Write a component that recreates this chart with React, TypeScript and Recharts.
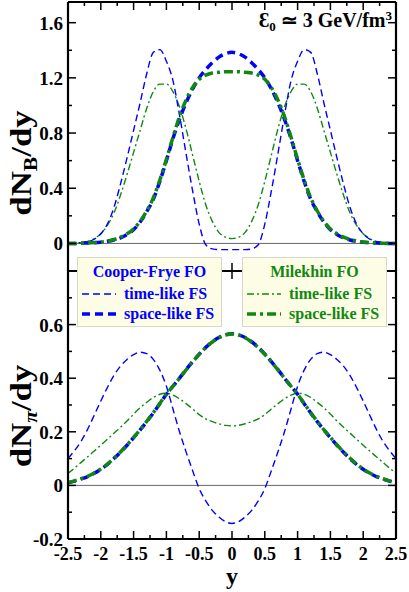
import React from 'react';
import { LineChart, Line, XAxis, YAxis, ReferenceLine } from 'recharts';

// rapidity grid
const rapidity = [
  -2.5, -2.4, -2.3, -2.2, -2.1, -2.0, -1.9, -1.8, -1.7, -1.6, -1.5, -1.4, -1.3, -1.2, -1.1, -1.0,
  -0.9, -0.8, -0.7, -0.6, -0.5, -0.4, -0.3, -0.2, -0.1, 0, 0.1, 0.2, 0.3, 0.4, 0.5, 0.6, 0.7, 0.8,
  0.9, 1.0, 1.1, 1.2, 1.3, 1.4, 1.5, 1.6, 1.7, 1.8, 1.9, 2.0, 2.1, 2.2, 2.3, 2.4, 2.5,
];

// baryon rapidity distributions
const cfTimeB = [
  0, 0.001, 0.004, 0.012, 0.03, 0.07, 0.14, 0.26, 0.43, 0.62, 0.82, 1.02, 1.23, 1.385, 1.405, 1.32,
  1.18, 0.93, 0.65, 0.38, 0.14, -0.01, -0.04, -0.045, -0.045, -0.045, -0.045, -0.045, -0.04, -0.01,
  0.14, 0.38, 0.65, 0.93, 1.18, 1.32, 1.405, 1.385, 1.23, 1.02, 0.82, 0.62, 0.43, 0.26, 0.14, 0.07,
  0.03, 0.012, 0.004, 0.001, 0,
];
const mkTimeB = [
  0, 0.002, 0.006, 0.015, 0.035, 0.07, 0.13, 0.22, 0.35, 0.5, 0.66, 0.82, 0.98, 1.1, 1.155, 1.155,
  1.1, 0.99, 0.83, 0.64, 0.45, 0.28, 0.16, 0.08, 0.045, 0.035, 0.045, 0.08, 0.16, 0.28, 0.45, 0.64,
  0.83, 0.99, 1.1, 1.155, 1.155, 1.1, 0.98, 0.82, 0.66, 0.5, 0.35, 0.22, 0.13, 0.07, 0.035, 0.015,
  0.006, 0.002, 0,
];
const cfSpaceB = [
  0, 0, 0.001, 0.003, 0.005, 0.009, 0.015, 0.025, 0.04, 0.065, 0.1, 0.155, 0.23, 0.32, 0.45, 0.6,
  0.76, 0.9, 1.02, 1.12, 1.2, 1.26, 1.31, 1.35, 1.375, 1.385, 1.375, 1.35, 1.31, 1.26, 1.2, 1.12,
  1.02, 0.9, 0.76, 0.6, 0.45, 0.32, 0.23, 0.155, 0.1, 0.065, 0.04, 0.025, 0.015, 0.009, 0.005, 0.003,
  0.001, 0, 0,
];
const mkSpaceB = [
  0, 0, 0.001, 0.003, 0.006, 0.01, 0.017, 0.028, 0.045, 0.07, 0.105, 0.16, 0.235, 0.33, 0.46, 0.61,
  0.77, 0.92, 1.04, 1.13, 1.19, 1.22, 1.235, 1.24, 1.245, 1.245, 1.245, 1.24, 1.235, 1.22, 1.19, 1.13,
  1.04, 0.92, 0.77, 0.61, 0.46, 0.33, 0.235, 0.16, 0.105, 0.07, 0.045, 0.028, 0.017, 0.01, 0.006,
  0.003, 0.001, 0, 0,
];

// pion rapidity distributions
const cfTimePi = [
  0.1, 0.13, 0.165, 0.21, 0.262, 0.315, 0.365, 0.41, 0.445, 0.47, 0.488, 0.497, 0.492, 0.47, 0.43,
  0.37, 0.285, 0.2, 0.125, 0.055, -0.012, -0.058, -0.093, -0.118, -0.135, -0.142, -0.135, -0.118,
  -0.093, -0.058, -0.012, 0.055, 0.125, 0.2, 0.285, 0.37, 0.43, 0.47, 0.492, 0.497, 0.488, 0.47,
  0.445, 0.41, 0.365, 0.315, 0.262, 0.21, 0.165, 0.13, 0.1,
];
const mkTimePi = [
  0.045, 0.065, 0.086, 0.107, 0.128, 0.15, 0.172, 0.195, 0.217, 0.24, 0.266, 0.29, 0.31, 0.328, 0.34,
  0.344, 0.337, 0.323, 0.305, 0.285, 0.264, 0.248, 0.238, 0.23, 0.224, 0.222, 0.224, 0.23, 0.238,
  0.248, 0.264, 0.285, 0.305, 0.323, 0.337, 0.344, 0.34, 0.328, 0.31, 0.29, 0.266, 0.24, 0.217, 0.195,
  0.172, 0.15, 0.128, 0.107, 0.086, 0.065, 0.045,
];
const cfSpacePi = [
  0.01, 0.016, 0.024, 0.033, 0.045, 0.06, 0.078, 0.1, 0.124, 0.15, 0.178, 0.207, 0.238, 0.27, 0.305,
  0.34, 0.37, 0.4, 0.432, 0.462, 0.49, 0.515, 0.536, 0.552, 0.562, 0.566, 0.562, 0.552, 0.536, 0.515,
  0.49, 0.462, 0.432, 0.4, 0.37, 0.34, 0.305, 0.27, 0.238, 0.207, 0.178, 0.15, 0.124, 0.1, 0.078, 0.06,
  0.045, 0.033, 0.024, 0.016, 0.01,
];
const mkSpacePi = [
  0.011, 0.017, 0.025, 0.034, 0.046, 0.061, 0.079, 0.101, 0.125, 0.151, 0.179, 0.208, 0.239, 0.271,
  0.306, 0.34, 0.37, 0.4, 0.431, 0.461, 0.489, 0.514, 0.535, 0.551, 0.561, 0.565, 0.561, 0.551, 0.535,
  0.514, 0.489, 0.461, 0.431, 0.4, 0.37, 0.34, 0.306, 0.271, 0.239, 0.208, 0.179, 0.151, 0.125, 0.101,
  0.079, 0.061, 0.046, 0.034, 0.025, 0.017, 0.011,
];

const xTicks = [
  -2.5, -2.25, -2, -1.75, -1.5, -1.25, -1, -0.75, -0.5, -0.25, 0, 0.25, 0.5, 0.75, 1, 1.25, 1.5, 1.75,
  2, 2.25, 2.5,
];
const xLabels = ['-2.5', '-2', '-1.5', '-1', '-0.5', '0', '0.5', '1', '1.5', '2', '2.5'];
const topYTicks = [-0.2, 0, 0.2, 0.4, 0.6, 0.8, 1.0, 1.2, 1.4, 1.6];
const topYLabels = ['0', '0.4', '0.8', '1.2', '1.6'];
const botYTicks = [-0.2, -0.1, 0, 0.1, 0.2, 0.3, 0.4, 0.5, 0.6, 0.7, 0.8];
const botYLabels = ['-0.2', '0', '0.2', '0.4', '0.6'];
const xDomain = [-2.5, 2.5];
const topDomain = [-0.2, 1.75];
const botDomain = [-0.2, 0.8];

const topData = rapidity.map((y, i) => ({
  y,
  cfTime: cfTimeB[i],
  mkTime: mkTimeB[i],
  cfSpace: cfSpaceB[i],
  mkSpace: mkSpaceB[i],
}));
const botData = rapidity.map((y, i) => ({
  y,
  cfTime: cfTimePi[i],
  mkTime: mkTimePi[i],
  cfSpace: cfSpacePi[i],
  mkSpace: mkSpacePi[i],
}));

const FONT = '"Liberation Serif", "Times New Roman", serif';
const BLUE = '#0000ff';
const GREEN = '#108810';

const fmtY = (v: number) => (Math.abs(v) < 1e-9 ? '0' : v.toFixed(1));

const makeXTick = (dir: 'up' | 'down', withLabels: boolean) => (props: any) => {
  const { x, y, payload } = props;
  const v = payload.value;
  const label = String(v);
  const major = xLabels.includes(label);
  const len = major ? 8 : 4;
  const y2 = dir === 'up' ? y - len : y + len;
  return (
    <g>
      <line x1={x} x2={x} y1={y} y2={y2} stroke="#000" strokeWidth={1.5} />
      {withLabels && major && (
        <text x={x} y={y + 21} textAnchor="middle" fontFamily={FONT} fontWeight="bold" fontSize={18} fill="#000">
          {label}
        </text>
      )}
    </g>
  );
};

const makeYTick = (side: 'left' | 'right', labels: string[], majorStep: number) => (props: any) => {
  const { x, y, payload } = props;
  const v = payload.value;
  const label = fmtY(v);
  const q = v / majorStep;
  const major = Math.abs(q - Math.round(q)) < 1e-6;
  const len = major ? 8 : 4;
  const x2 = side === 'left' ? x + len : x - len;
  return (
    <g>
      <line x1={x} x2={x2} y1={y} y2={y} stroke="#000" strokeWidth={1.5} />
      {side === 'left' && labels.includes(label) && (
        <text x={x - 5} y={y + 7} textAnchor="end" fontFamily={FONT} fontWeight="bold" fontSize={19} fill="#000">
          {label}
        </text>
      )}
    </g>
  );
};

const frame = (yDomain: number[]) => [
  <ReferenceLine key="fl" x={xDomain[0]} stroke="#000" strokeWidth={2.2} />,
  <ReferenceLine key="fr" x={xDomain[1]} stroke="#000" strokeWidth={2.2} />,
  <ReferenceLine key="fb" y={yDomain[0]} stroke="#000" strokeWidth={2.2} />,
  <ReferenceLine key="ft" y={yDomain[1]} stroke="#000" strokeWidth={2.2} />,
];

const renderLines = () => [
  <Line key="mkT" dataKey="mkTime" stroke={GREEN} strokeWidth={1.4} strokeDasharray="7 3 2 3" dot={false} type="monotone" isAnimationActive={false} />,
  <Line key="cfT" dataKey="cfTime" stroke={BLUE} strokeWidth={1.4} strokeDasharray="7 4" dot={false} type="monotone" isAnimationActive={false} />,
  <Line key="cfS" dataKey="cfSpace" stroke={BLUE} strokeWidth={3.5} strokeDasharray="8 5" dot={false} type="monotone" isAnimationActive={false} />,
  <Line key="mkS" dataKey="mkSpace" stroke={GREEN} strokeWidth={3.5} strokeDasharray="9 4 3 4" dot={false} type="monotone" isAnimationActive={false} />,
];

const LegendSample = ({ color, width, dash }: { color: string; width: number; dash: string }) => (
  <svg width={34} height={8} style={{ display: 'block' }}>
    <line x1={0} x2={34} y1={4} y2={4} stroke={color} strokeWidth={width} strokeDasharray={dash} />
  </svg>
);

const LegendBox = ({ left, title, color, thinDash, thickDash }: any) => (
  <div
    style={{
      position: 'absolute',
      left,
      top: 257,
      width: 145,
      height: 70,
      background: '#fdfde6',
      border: '1px solid #d8d8c8',
      boxSizing: 'border-box',
      fontFamily: FONT,
      fontWeight: 'bold',
      fontSize: 16,
      color,
    }}
  >
    <div style={{ position: 'absolute', top: 5, left: 0, width: '100%', textAlign: 'center', lineHeight: '18px' }}>{title}</div>
    <div style={{ position: 'absolute', top: 27, left: 4, display: 'flex', alignItems: 'center', lineHeight: '18px' }}>
      <LegendSample color={color} width={1.4} dash={thinDash} />
      <span style={{ marginLeft: 8 }}>time-like FS</span>
    </div>
    <div style={{ position: 'absolute', top: 47, left: 4, display: 'flex', alignItems: 'center', lineHeight: '18px' }}>
      <LegendSample color={color} width={3.5} dash={thickDash} />
      <span style={{ marginLeft: 8 }}>space-like FS</span>
    </div>
  </div>
);

export default function App() {
  return (
    <div style={{ position: 'absolute', left: 0, top: 0, width: 409, height: 592, background: '#fff', overflow: 'hidden' }}>
      {/* top panel */}
      <div style={{ position: 'absolute', left: 0, top: 0 }}>
        <LineChart width={409} height={272} data={topData} margin={{ top: 1, right: 12, bottom: 0, left: 0 }}>
          <XAxis xAxisId={0} dataKey="y" type="number" domain={xDomain} ticks={xTicks} interval={0} height={1} tickSize={0} tickMargin={0} axisLine={false} tickLine={false} tick={makeXTick('up', false)} allowDataOverflow />
          <XAxis xAxisId="top" orientation="top" dataKey="y" type="number" domain={xDomain} ticks={xTicks} interval={0} height={1} tickSize={0} tickMargin={0} axisLine={false} tickLine={false} tick={makeXTick('down', false)} allowDataOverflow />
          <YAxis yAxisId={0} type="number" domain={topDomain} ticks={topYTicks} interval={0} width={68} tickSize={0} tickMargin={0} axisLine={false} tickLine={false} tick={makeYTick('left', topYLabels, 0.4)} allowDataOverflow />
          <YAxis yAxisId="right" orientation="right" type="number" domain={topDomain} ticks={topYTicks} interval={0} width={1} tickSize={0} tickMargin={0} axisLine={false} tickLine={false} tick={makeYTick('right', topYLabels, 0.4)} allowDataOverflow />
          <ReferenceLine y={0} stroke="#666" strokeWidth={1} />
          {renderLines()}
          {frame(topDomain)}
        </LineChart>
      </div>
      {/* bottom panel */}
      <div style={{ position: 'absolute', left: 0, top: 266 }}>
        <LineChart width={409} height={326} data={botData} margin={{ top: 4, right: 12, bottom: 52, left: 0 }}>
          <XAxis xAxisId={0} dataKey="y" type="number" domain={xDomain} ticks={xTicks} interval={0} height={1} tickSize={0} tickMargin={0} axisLine={false} tickLine={false} tick={makeXTick('up', true)} allowDataOverflow />
          <XAxis xAxisId="top" orientation="top" dataKey="y" type="number" domain={xDomain} ticks={xTicks} interval={0} height={1} tickSize={0} tickMargin={0} axisLine={false} tickLine={false} tick={makeXTick('down', false)} allowDataOverflow />
          <YAxis yAxisId={0} type="number" domain={botDomain} ticks={botYTicks} interval={0} width={68} tickSize={0} tickMargin={0} axisLine={false} tickLine={false} tick={makeYTick('left', botYLabels, 0.2)} allowDataOverflow />
          <YAxis yAxisId="right" orientation="right" type="number" domain={botDomain} ticks={botYTicks} interval={0} width={1} tickSize={0} tickMargin={0} axisLine={false} tickLine={false} tick={makeYTick('right', botYLabels, 0.2)} allowDataOverflow />
          <ReferenceLine y={0} stroke="#666" strokeWidth={1} />
          {renderLines()}
          {frame(botDomain)}
        </LineChart>
      </div>

      <LegendBox left={77} title="Cooper-Frye FO" color={BLUE} thinDash="7 4" thickDash="8 5" />
      <LegendBox left={242} title="Milekhin FO" color={GREEN} thinDash="7 3 2 3" thickDash="9 4 3 4" />

      {/* annotations */}
      <svg width={409} height={592} style={{ position: 'absolute', left: 0, top: 0, pointerEvents: 'none' }}>
        <text x={392} y={27} textAnchor="end" fontFamily={FONT} fontWeight="bold" fontSize={20} fill="#000">
          Ɛ<tspan fontSize={13} dy={4}>0</tspan>
          <tspan dy={-4}> ≃ 3 GeV/fm</tspan>
          <tspan fontSize={13} dy={-7}>3</tspan>
        </text>
        <text transform="translate(31,163) rotate(-90) scale(1.2,1)" textAnchor="middle" fontFamily={FONT} fontWeight="bold" fontSize={29} fill="#000">
          dN<tspan fontSize={18} dy={6}>B</tspan>
          <tspan dy={-6}>/dy</tspan>
        </text>
        <text transform="translate(31,416) rotate(-90) scale(1.2,1)" textAnchor="middle" fontFamily={FONT} fontWeight="bold" fontSize={29} fill="#000">
          dN<tspan fontSize={18} dy={6} fontStyle="italic">π</tspan>
          <tspan dy={-6}>/dy</tspan>
        </text>
        <text x={232} y={584} textAnchor="middle" fontFamily={FONT} fontWeight="bold" fontSize={24} fill="#000">
          y
        </text>
      </svg>
    </div>
  );
}
